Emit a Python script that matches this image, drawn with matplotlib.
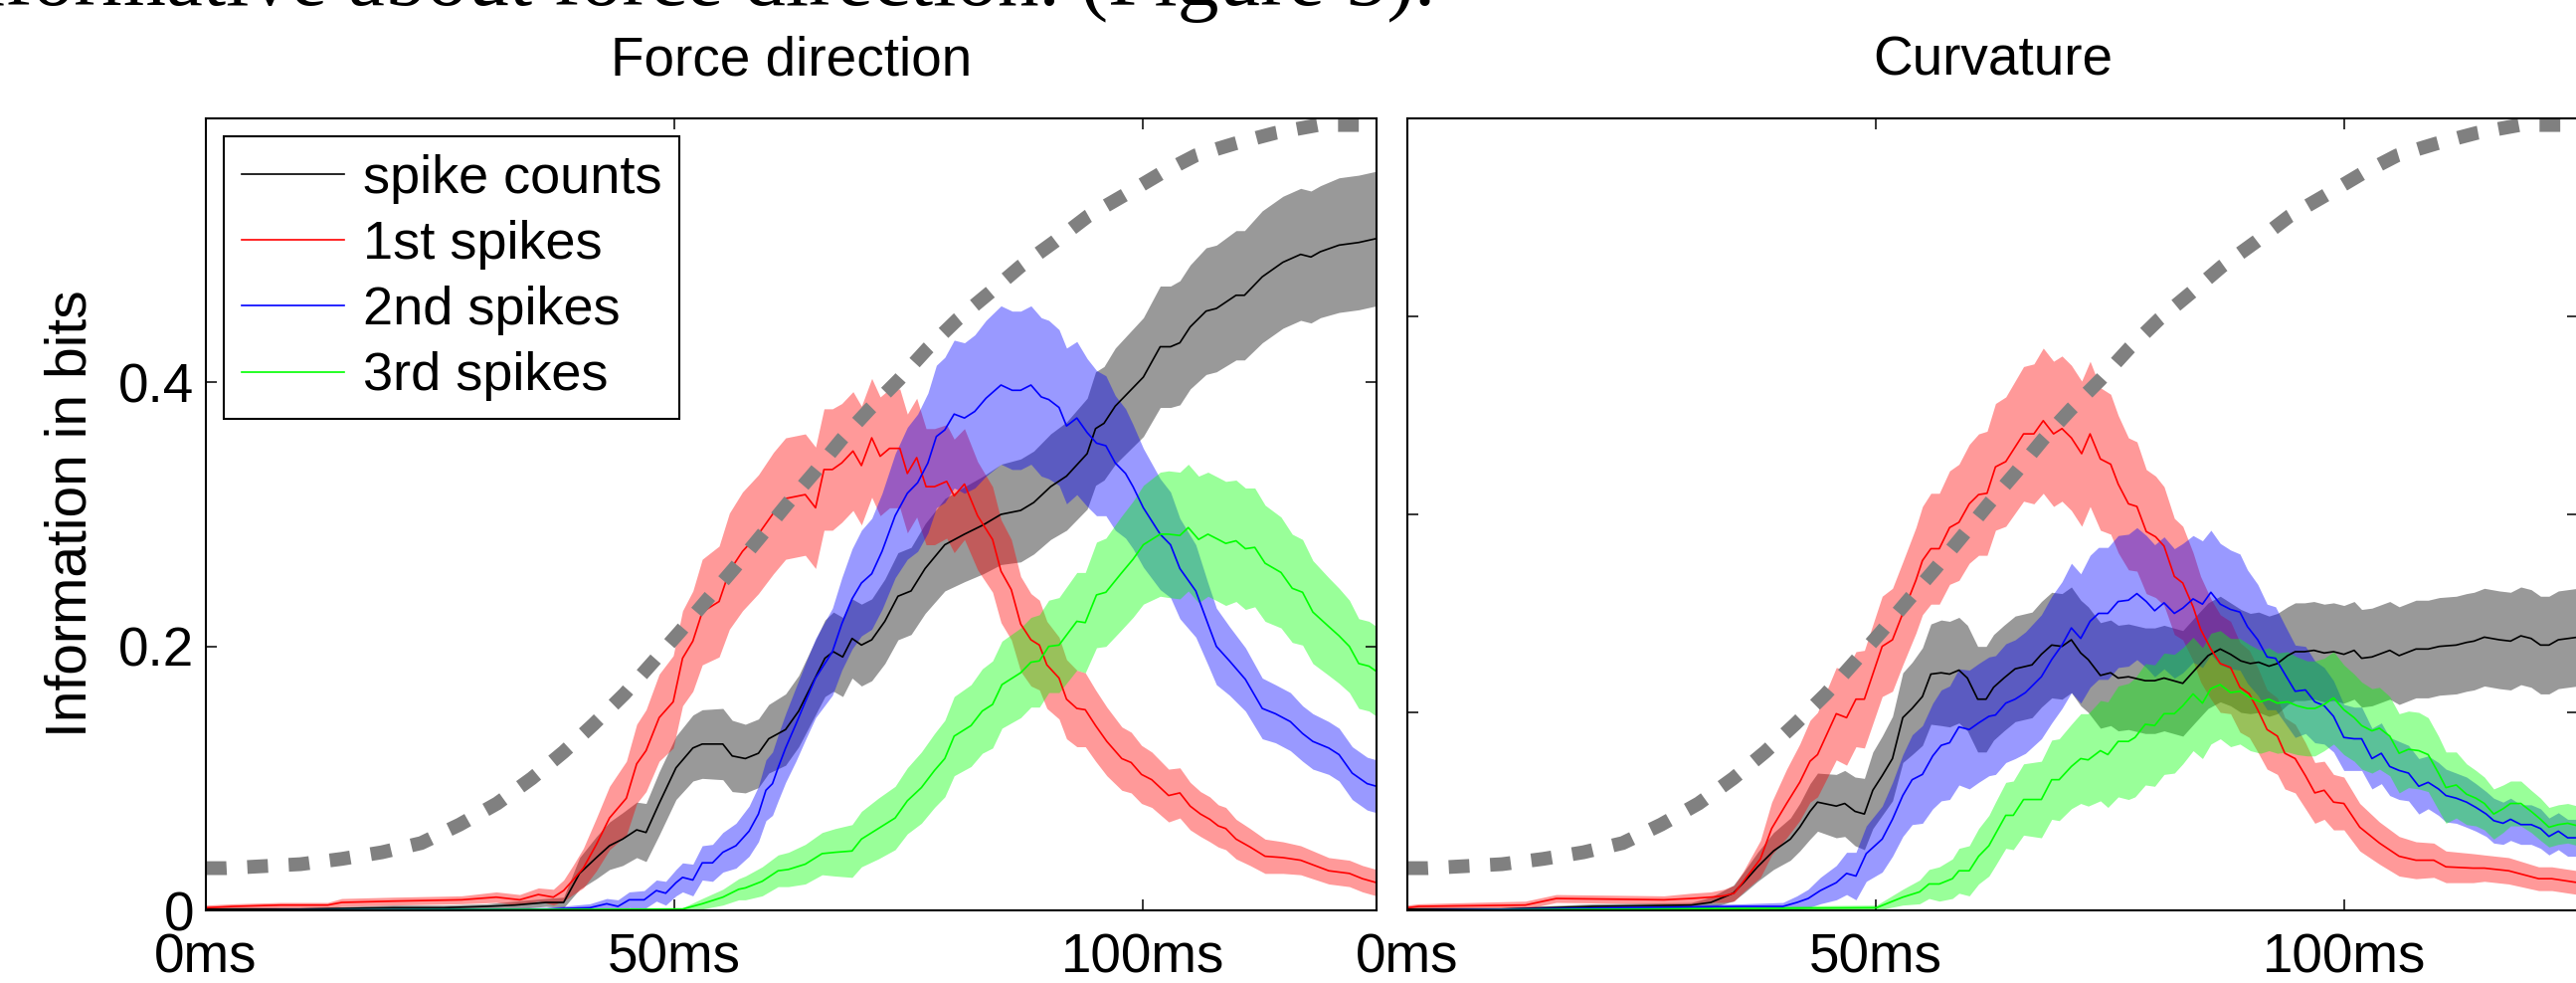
import matplotlib
matplotlib.use("Agg")
import matplotlib.pyplot as plt
import numpy as np


# Time axis is in ms, values are information in bits.

# Dotted gray reference curve (same in both panels)
REF_T = [0, 2.2, 10.1, 14.5, 18.8, 23.0, 27.1, 31.1, 34.8, 38.2, 41.4, 44.7, 47.6, 50.6, 53.6, 56.4,
         59.2, 62.2, 65.0, 67.9, 70.9, 74.0, 77.1, 80.3, 83.7, 87.0, 90.7, 94.2, 98.1, 101.9, 105.7,
         109.9, 114.2, 118.8, 123.3, 125]
REF_V = [0.032, 0.032, 0.035, 0.039, 0.044, 0.051, 0.065, 0.081, 0.100, 0.120, 0.141, 0.164, 0.187,
         0.211, 0.236, 0.259, 0.283, 0.309, 0.332, 0.357, 0.380, 0.402, 0.426, 0.448, 0.468, 0.488,
         0.507, 0.526, 0.542, 0.558, 0.572, 0.581, 0.589, 0.595, 0.595, 0.596]

# ---- Force direction panel ----
FD_COUNT_T = [0, 10, 20, 25.4, 30, 33, 36.3, 38.2,
              39.9, 41.7, 43.1, 44.5, 46.0, 47.0, 48.4, 50.2, 52.0, 53.0,
              55.2, 56.2, 57.6, 59.0, 60.1, 61.9, 63.3, 64.7, 66.1, 67.0,
              68.0, 69.0, 70.0, 71.1, 72.5, 73.9, 75.3, 76.8, 78.9, 81.0,
              83.0, 84.9, 87.0, 88.4, 90.2, 91.9, 94.1, 95.0, 95.9, 97.1,
              100.1, 101.9, 103.0, 104.0, 105.1, 106.8, 107.9, 110.0, 110.9, 112.8,
              115.0, 116.9, 118.0, 119.0, 121.0, 123.1, 125]
FD_COUNT_V = [0.001, 0.001, 0.002, 0.002, 0.003, 0.004, 0.006, 0.006,
              0.028, 0.040, 0.049, 0.054, 0.061, 0.059, 0.081, 0.108, 0.123, 0.126,
              0.126, 0.117, 0.115, 0.119, 0.130, 0.137, 0.151, 0.171, 0.191, 0.196,
              0.192, 0.206, 0.201, 0.205, 0.219, 0.238, 0.242, 0.259, 0.277, 0.285,
              0.292, 0.300, 0.303, 0.309, 0.321, 0.329, 0.346, 0.365, 0.369, 0.382,
              0.404, 0.427, 0.427, 0.430, 0.442, 0.454, 0.456, 0.466, 0.466, 0.480,
              0.491, 0.497, 0.495, 0.499, 0.504, 0.506, 0.509]
FD_COUNT_E = [0.001, 0.001, 0.002, 0.002, 0.002, 0.003, 0.003, 0.004,
              0.012, 0.016, 0.018, 0.020, 0.021, 0.022, 0.024, 0.024, 0.025, 0.026,
              0.027, 0.027, 0.026, 0.026, 0.026, 0.027, 0.027, 0.028, 0.029, 0.030,
              0.030, 0.030, 0.031, 0.031, 0.032, 0.033, 0.033, 0.034, 0.035, 0.036,
              0.037, 0.038, 0.039, 0.039, 0.040, 0.041, 0.042, 0.043, 0.043, 0.044,
              0.045, 0.046, 0.046, 0.047, 0.047, 0.048, 0.048, 0.049, 0.049, 0.050,
              0.050, 0.050, 0.050, 0.050, 0.051, 0.051, 0.051]

FD_FIRST_T = [0, 3, 8, 13, 14.5, 20, 27.3, 31.0, 33.5, 35.5,
              37.1, 38.2, 39.2, 40.3, 41.7, 43.1, 44.9, 46.0, 47.0, 48.4,
              49.9, 50.9, 52.0, 53.0, 54.8, 55.9, 57.3, 59.0, 60.6, 61.9,
              64.0, 65.1, 66.0, 66.9, 67.9, 69.1, 70.0, 71.1, 72.0, 73.0,
              74.1, 74.9, 75.9, 76.9, 77.8, 79.1, 79.9, 81.0, 82.4, 84.0,
              84.9, 86.0, 87.0, 88.1, 89.0, 89.8, 91.1, 91.9, 93.0, 93.9,
              95.0, 96.2, 97.8, 98.8, 99.9, 101.0, 102.8, 104.0, 105.1, 106.2,
              107.2, 108.1, 108.9, 110.0, 111.5, 113.1, 115.0, 116.9, 119.9, 122.1,
              123.5, 125]
FD_FIRST_V = [0.002, 0.003, 0.004, 0.004, 0.006, 0.007, 0.008, 0.010, 0.008, 0.012,
              0.010, 0.015, 0.023, 0.032, 0.050, 0.070, 0.085, 0.111, 0.121, 0.146,
              0.158, 0.191, 0.204, 0.226, 0.234, 0.257, 0.272, 0.285, 0.301, 0.312,
              0.315, 0.305, 0.334, 0.334, 0.339, 0.348, 0.337, 0.358, 0.344, 0.350,
              0.350, 0.331, 0.343, 0.321, 0.321, 0.325, 0.314, 0.323, 0.299, 0.281,
              0.257, 0.243, 0.217, 0.205, 0.201, 0.186, 0.176, 0.160, 0.153, 0.152,
              0.140, 0.128, 0.115, 0.112, 0.103, 0.099, 0.087, 0.089, 0.079, 0.073,
              0.069, 0.064, 0.062, 0.054, 0.048, 0.041, 0.040, 0.038, 0.030, 0.028,
              0.024, 0.021]
FD_FIRST_E = [0.002, 0.002, 0.002, 0.002, 0.003, 0.003, 0.003, 0.004, 0.004, 0.005,
              0.006, 0.008, 0.011, 0.015, 0.020, 0.024, 0.028, 0.030, 0.031, 0.033,
              0.035, 0.036, 0.038, 0.040, 0.042, 0.044, 0.045, 0.045, 0.046, 0.046,
              0.046, 0.046, 0.046, 0.046, 0.045, 0.045, 0.045, 0.045, 0.045, 0.045,
              0.045, 0.045, 0.045, 0.044, 0.044, 0.043, 0.043, 0.042, 0.041, 0.040,
              0.039, 0.038, 0.036, 0.035, 0.034, 0.033, 0.031, 0.030, 0.029, 0.028,
              0.027, 0.026, 0.024, 0.023, 0.022, 0.021, 0.020, 0.019, 0.018, 0.017,
              0.017, 0.016, 0.016, 0.015, 0.014, 0.013, 0.012, 0.011, 0.010, 0.010,
              0.010, 0.010]

FD_SECOND_T = [0, 36.4, 41.0, 42.8, 44.0, 45.2, 46.8, 48.1, 49.1, 50.2,
               50.9, 52.0, 53.0, 54.1, 55.2, 56.6, 58.0, 59.0, 59.8, 60.5,
               61.1, 61.9, 63.0, 64.0, 65.1, 66.9, 67.9, 69.0, 70.0, 71.1,
               72.2, 73.6, 74.9, 76.0, 77.1, 78.0, 78.9, 79.9, 81.0, 82.1,
               83.3, 84.9, 86.1, 87.0, 88.1, 89.2, 90.0, 91.1, 91.9, 93.0,
               94.1, 95.1, 96.1, 97.1, 98.2, 99.0, 100.1, 101.9, 103.0, 104.0,
               105.7, 107.0, 107.9, 109.3, 111.0, 112.8, 114.2, 115.8, 117.1, 118.2,
               119.9, 121.0, 122.4, 124.0, 125]
FD_SECOND_V = [0.0, 0.001, 0.002, 0.005, 0.003, 0.008, 0.008, 0.015, 0.013, 0.021,
               0.025, 0.023, 0.036, 0.036, 0.044, 0.049, 0.060, 0.073, 0.091, 0.096,
               0.108, 0.123, 0.141, 0.158, 0.176, 0.196, 0.217, 0.236, 0.248, 0.255,
               0.272, 0.299, 0.316, 0.324, 0.339, 0.359, 0.364, 0.376, 0.373, 0.378,
               0.388, 0.398, 0.394, 0.394, 0.398, 0.389, 0.387, 0.381, 0.367, 0.373,
               0.362, 0.354, 0.352, 0.339, 0.331, 0.321, 0.305, 0.285, 0.277, 0.259,
               0.242, 0.217, 0.200, 0.189, 0.175, 0.153, 0.149, 0.143, 0.134, 0.128,
               0.123, 0.118, 0.104, 0.096, 0.094]
FD_SECOND_E = [0.0005, 0.001, 0.003, 0.004, 0.005, 0.006, 0.007, 0.008, 0.009, 0.010,
               0.011, 0.012, 0.013, 0.014, 0.015, 0.017, 0.019, 0.021, 0.023, 0.024,
               0.025, 0.026, 0.028, 0.029, 0.030, 0.033, 0.035, 0.038, 0.040, 0.042,
               0.044, 0.047, 0.050, 0.052, 0.053, 0.054, 0.055, 0.056, 0.057, 0.058,
               0.059, 0.060, 0.060, 0.060, 0.060, 0.060, 0.060, 0.059, 0.059, 0.058,
               0.056, 0.055, 0.053, 0.051, 0.049, 0.047, 0.045, 0.042, 0.040, 0.038,
               0.035, 0.031, 0.029, 0.026, 0.024, 0.023, 0.022, 0.022, 0.021, 0.021,
               0.020, 0.020, 0.020, 0.020, 0.020]

FD_THIRD_T = [0, 50.9, 53.0, 55.2, 56.9, 57.6, 59.4, 61.1, 62.2, 64.0,
              65.8, 67.2, 69.0, 70.0, 71.8, 73.6, 74.9, 76.4, 77.8, 78.9,
              79.9, 81.7, 82.9, 84.0, 85.0, 87.0, 88.1, 89.0, 90.0, 91.1,
              93.0, 93.9, 95.1, 96.1, 97.7, 99.0, 100.1, 101.9, 102.8, 104.0,
              104.9, 106.0, 107.0, 108.1, 108.9, 110.0, 111.0, 112.0, 113.1, 114.8,
              116.0, 117.1, 118.2, 119.9, 121.0, 122.1, 123.1, 124.2, 125]
FD_THIRD_V = [0.0, 0.001, 0.005, 0.010, 0.016, 0.017, 0.022, 0.030, 0.031, 0.035,
              0.043, 0.044, 0.045, 0.054, 0.062, 0.070, 0.083, 0.093, 0.106, 0.115,
              0.132, 0.140, 0.151, 0.156, 0.171, 0.180, 0.188, 0.189, 0.200, 0.201,
              0.219, 0.218, 0.239, 0.241, 0.255, 0.266, 0.277, 0.285, 0.285, 0.284,
              0.290, 0.281, 0.285, 0.281, 0.278, 0.280, 0.274, 0.275, 0.263, 0.256,
              0.244, 0.241, 0.226, 0.215, 0.208, 0.200, 0.187, 0.185, 0.181]
FD_THIRD_E = [0.0005, 0.001, 0.004, 0.006, 0.008, 0.009, 0.011, 0.012, 0.013, 0.015,
              0.016, 0.018, 0.020, 0.021, 0.023, 0.024, 0.025, 0.027, 0.028, 0.029,
              0.030, 0.031, 0.032, 0.033, 0.033, 0.034, 0.034, 0.035, 0.035, 0.036,
              0.037, 0.038, 0.040, 0.041, 0.043, 0.044, 0.045, 0.047, 0.048, 0.048,
              0.048, 0.048, 0.047, 0.047, 0.047, 0.046, 0.046, 0.045, 0.044, 0.042,
              0.041, 0.040, 0.039, 0.037, 0.036, 0.035, 0.034, 0.034, 0.034]

# ---- Curvature panel ----
CV_COUNT_T = [0, 10, 20, 30.3, 32.4, 34.8, 35.9, 37.4, 39.1, 40.9,
              41.9, 43.0, 43.8, 45.8, 46.7, 47.8, 48.8, 49.7, 50.7, 51.8,
              52.9, 53.9, 55.0, 55.9, 57.0, 57.9, 58.9, 59.8, 60.9, 61.8,
              62.6, 63.7, 64.9, 66.7, 67.7, 68.8, 69.9, 70.9, 71.9, 72.7,
              74.0, 75.1, 75.9, 77.0, 78.8, 79.8, 80.8, 82.8, 84.2, 85.5,
              86.8, 87.9, 89.0, 90.0, 90.9, 92.0, 92.9, 94.0, 94.8, 95.8,
              96.8, 97.9, 98.9, 100.0, 101.1, 101.9, 103.0, 104.9, 105.9, 107.7,
              109.0, 110.2, 112.0, 113.1, 113.9, 115.0, 116.6, 117.8, 118.9, 120.0,
              121.0, 121.9, 122.9, 125]
CV_COUNT_V = [0.001, 0.001, 0.003, 0.004, 0.006, 0.013, 0.021, 0.033, 0.045, 0.054,
              0.063, 0.075, 0.082, 0.079, 0.081, 0.075, 0.073, 0.091, 0.102, 0.115,
              0.146, 0.153, 0.162, 0.179, 0.180, 0.179, 0.182, 0.176, 0.160, 0.160,
              0.169, 0.176, 0.183, 0.186, 0.194, 0.201, 0.200, 0.205, 0.195, 0.190,
              0.178, 0.180, 0.176, 0.177, 0.174, 0.174, 0.176, 0.172, 0.183, 0.193,
              0.198, 0.194, 0.189, 0.187, 0.188, 0.185, 0.187, 0.193, 0.196, 0.196,
              0.197, 0.195, 0.196, 0.194, 0.197, 0.191, 0.192, 0.197, 0.193, 0.198,
              0.198, 0.200, 0.201, 0.203, 0.204, 0.207, 0.205, 0.204, 0.208, 0.206,
              0.201, 0.201, 0.205, 0.207]
CV_COUNT_E = [0.001, 0.001, 0.002, 0.002, 0.004, 0.006, 0.008, 0.011, 0.014, 0.016,
              0.018, 0.021, 0.022, 0.024, 0.025, 0.026, 0.027, 0.029, 0.030, 0.032,
              0.034, 0.035, 0.037, 0.038, 0.040, 0.040, 0.040, 0.040, 0.040, 0.040,
              0.040, 0.040, 0.040, 0.040, 0.040, 0.040, 0.040, 0.040, 0.040, 0.040,
              0.040, 0.040, 0.040, 0.040, 0.040, 0.040, 0.040, 0.040, 0.040, 0.040,
              0.040, 0.039, 0.039, 0.038, 0.038, 0.038, 0.038, 0.037, 0.037, 0.037,
              0.037, 0.037, 0.037, 0.037, 0.037, 0.037, 0.037, 0.037, 0.037, 0.037,
              0.037, 0.037, 0.037, 0.037, 0.037, 0.037, 0.037, 0.037, 0.037, 0.037,
              0.037, 0.037, 0.037, 0.037]

CV_FIRST_T = [0, 1.2, 12.6, 15.9, 27.4, 30.3, 32.4, 33.8, 34.9, 35.9,
              37.7, 38.9, 40.5, 41.9, 43.0, 43.8, 45.8, 46.9, 47.9, 48.8,
              50.7, 51.8, 52.9, 54.3, 55.0, 55.9, 56.8, 57.9, 58.9, 60.0,
              61.0, 61.9, 62.8, 63.9, 65.8, 66.9, 67.9, 69.0, 69.9, 70.9,
              72.0, 72.9, 74.0, 75.1, 75.9, 77.0, 77.9, 78.9, 79.9, 80.8,
              81.9, 82.8, 83.9, 84.7, 85.8, 86.8, 87.9, 88.9, 89.9, 90.8,
              91.8, 92.9, 93.7, 94.8, 95.9, 96.9, 97.9, 98.9, 100.0, 101.7,
              103.8, 105.9, 107.7, 109.6, 110.9, 113.8, 115.0, 117.6, 120.8, 122.2,
              125]
CV_FIRST_V = [0.002, 0.003, 0.004, 0.009, 0.008, 0.009, 0.010, 0.011, 0.013, 0.022,
              0.039, 0.062, 0.081, 0.097, 0.113, 0.118, 0.149, 0.146, 0.160, 0.160,
              0.200, 0.205, 0.225, 0.250, 0.265, 0.274, 0.274, 0.290, 0.294, 0.308,
              0.315, 0.316, 0.336, 0.340, 0.361, 0.361, 0.371, 0.361, 0.365, 0.358,
              0.346, 0.361, 0.342, 0.338, 0.323, 0.308, 0.306, 0.287, 0.283, 0.276,
              0.253, 0.248, 0.230, 0.213, 0.198, 0.187, 0.184, 0.169, 0.164, 0.152,
              0.137, 0.132, 0.119, 0.115, 0.102, 0.089, 0.091, 0.082, 0.081, 0.063,
              0.051, 0.041, 0.038, 0.038, 0.033, 0.032, 0.032, 0.030, 0.024, 0.024,
              0.021]
CV_FIRST_E = [0.002, 0.002, 0.003, 0.003, 0.003, 0.004, 0.004, 0.005, 0.006, 0.008,
              0.014, 0.020, 0.026, 0.029, 0.031, 0.032, 0.035, 0.036, 0.036, 0.037,
              0.038, 0.039, 0.039, 0.040, 0.041, 0.042, 0.042, 0.043, 0.044, 0.045,
              0.046, 0.047, 0.048, 0.049, 0.051, 0.053, 0.055, 0.055, 0.055, 0.055,
              0.055, 0.055, 0.054, 0.053, 0.052, 0.050, 0.049, 0.047, 0.046, 0.045,
              0.044, 0.043, 0.041, 0.040, 0.038, 0.037, 0.035, 0.034, 0.033, 0.032,
              0.030, 0.029, 0.027, 0.026, 0.025, 0.023, 0.022, 0.021, 0.020, 0.018,
              0.016, 0.015, 0.014, 0.013, 0.012, 0.011, 0.010, 0.010, 0.009, 0.009,
              0.009]

CV_SECOND_T = [0, 35.9, 40.1, 41.6, 42.8, 44.1, 45.8, 46.9, 47.9, 49.0,
               50.7, 51.8, 52.9, 53.9, 55.0, 56.1, 57.0, 57.9, 58.9, 60.0,
               61.0, 62.1, 62.8, 63.9, 64.9, 66.0, 67.7, 68.8, 69.9, 70.9,
               71.9, 72.9, 73.8, 74.8, 75.9, 77.0, 77.9, 78.9, 79.8, 80.8,
               81.9, 82.8, 83.9, 84.9, 85.8, 86.8, 87.9, 88.9, 89.7, 90.8,
               91.8, 92.7, 93.7, 94.8, 95.9, 96.9, 97.9, 98.9, 100.0, 101.1,
               101.9, 103.0, 104.0, 104.9, 105.9, 106.9, 108.0, 109.0, 110.1, 110.9,
               112.0, 113.1, 114.1, 115.2, 116.0, 117.0, 117.8, 118.9, 120.0, 121.0,
               121.9, 122.9, 123.9, 125]
CV_SECOND_V = [0.0, 0.003, 0.003, 0.006, 0.009, 0.015, 0.021, 0.028, 0.026, 0.043,
               0.054, 0.069, 0.087, 0.099, 0.103, 0.117, 0.125, 0.127, 0.139, 0.137,
               0.142, 0.147, 0.148, 0.157, 0.160, 0.165, 0.177, 0.190, 0.201, 0.214,
               0.206, 0.219, 0.225, 0.225, 0.234, 0.235, 0.240, 0.234, 0.227, 0.233,
               0.225, 0.229, 0.236, 0.232, 0.241, 0.232, 0.228, 0.226, 0.215, 0.205,
               0.192, 0.191, 0.179, 0.166, 0.167, 0.158, 0.155, 0.147, 0.131, 0.130,
               0.130, 0.115, 0.119, 0.109, 0.106, 0.104, 0.094, 0.097, 0.092, 0.087,
               0.085, 0.082, 0.078, 0.073, 0.068, 0.066, 0.069, 0.065, 0.065, 0.062,
               0.056, 0.060, 0.055, 0.055]
CV_SECOND_E = [0.0005, 0.002, 0.003, 0.005, 0.007, 0.010, 0.013, 0.016, 0.018, 0.021,
               0.025, 0.028, 0.031, 0.034, 0.037, 0.040, 0.042, 0.043, 0.044, 0.045,
               0.045, 0.045, 0.045, 0.045, 0.045, 0.046, 0.047, 0.048, 0.048, 0.049,
               0.049, 0.050, 0.050, 0.050, 0.050, 0.050, 0.050, 0.050, 0.050, 0.050,
               0.049, 0.049, 0.048, 0.048, 0.047, 0.046, 0.045, 0.044, 0.043, 0.042,
               0.040, 0.039, 0.037, 0.035, 0.033, 0.031, 0.029, 0.027, 0.025, 0.024,
               0.024, 0.023, 0.023, 0.022, 0.022, 0.021, 0.021, 0.020, 0.020, 0.020,
               0.019, 0.019, 0.018, 0.017, 0.017, 0.016, 0.016, 0.015, 0.015, 0.015,
               0.014, 0.014, 0.014, 0.014]

CV_THIRD_T = [0, 50.1, 51.5, 52.9, 54.7, 55.7, 56.8, 58.2, 58.9, 60.0,
              61.0, 62.1, 62.8, 63.9, 64.7, 65.8, 67.7, 68.8, 69.6, 70.9,
              71.9, 72.7, 74.0, 74.8, 75.9, 77.0, 77.7, 78.8, 79.8, 80.8,
              81.9, 82.8, 83.9, 84.9, 85.8, 86.8, 87.9, 88.9, 90.0, 91.1,
              92.0, 92.9, 94.0, 95.0, 96.1, 96.9, 97.9, 98.9, 100.0, 101.1,
              101.9, 103.0, 103.8, 104.9, 105.9, 106.9, 108.0, 109.0, 110.1, 110.9,
              112.0, 113.1, 114.1, 115.0, 116.0, 117.0, 117.8, 118.9, 120.0, 121.0,
              121.9, 122.9, 123.9, 125]
CV_THIRD_V = [0.0, 0.002, 0.006, 0.010, 0.014, 0.020, 0.020, 0.024, 0.030, 0.030,
              0.041, 0.049, 0.058, 0.072, 0.072, 0.084, 0.084, 0.099, 0.099, 0.109,
              0.115, 0.114, 0.121, 0.118, 0.128, 0.128, 0.131, 0.141, 0.140, 0.149,
              0.149, 0.155, 0.164, 0.157, 0.168, 0.171, 0.165, 0.166, 0.161, 0.158,
              0.160, 0.157, 0.158, 0.155, 0.153, 0.153, 0.156, 0.161, 0.152, 0.146,
              0.140, 0.136, 0.138, 0.132, 0.119, 0.122, 0.121, 0.118, 0.104, 0.093,
              0.095, 0.088, 0.085, 0.081, 0.073, 0.077, 0.081, 0.081, 0.075, 0.069,
              0.063, 0.065, 0.066, 0.064]
CV_THIRD_E = [0.0005, 0.002, 0.004, 0.006, 0.009, 0.011, 0.013, 0.015, 0.017, 0.019,
              0.021, 0.023, 0.024, 0.025, 0.026, 0.027, 0.029, 0.030, 0.031, 0.032,
              0.034, 0.035, 0.038, 0.040, 0.042, 0.044, 0.045, 0.046, 0.046, 0.046,
              0.045, 0.044, 0.043, 0.042, 0.042, 0.041, 0.041, 0.040, 0.040, 0.039,
              0.039, 0.038, 0.038, 0.037, 0.036, 0.036, 0.035, 0.035, 0.034, 0.033,
              0.033, 0.032, 0.031, 0.030, 0.030, 0.029, 0.029, 0.028, 0.028, 0.027,
              0.025, 0.023, 0.021, 0.020, 0.019, 0.018, 0.017, 0.017, 0.016, 0.016,
              0.015, 0.015, 0.015, 0.015]

LABELS = ["spike counts", "1st spikes", "2nd spikes", "3rd spikes"]
COLORS = ["#000000", "#ff0000", "#0000ff", "#00ff00"]
XTICKS = [0, 50, 100]
XTICK_LABELS = ["0ms", "50ms", "100ms"]

FONT = "Liberation Sans"
FS = 39.5


def draw_panel(ax, series, title):
    """Bands first, then mean lines, then the dotted reference curve on top."""
    for (t, v, e), color in zip(series, COLORS):
        t, v, e = np.asarray(t), np.asarray(v), np.asarray(e)
        assert len(t) == len(v) == len(e), (title, len(t), len(v), len(e))
        ax.fill_between(t, v - e, v + e, color=color, alpha=0.4, linewidth=0)
    handles = []
    for (t, v, e), color, label in zip(series, COLORS, LABELS):
        h, = ax.plot(t, v, color=color, linewidth=1.2, label=label)
        handles.append(h)
    ax.plot(REF_T, REF_V, color="#808080", linewidth=10,
            linestyle=(0, (1.5, 1.5)), dash_capstyle="butt")

    ax.set_xlim(0, 125)
    ax.set_ylim(0, 0.6)
    ax.set_xticks(XTICKS)
    ax.set_xticklabels(XTICK_LABELS, fontsize=FS, family=FONT)
    ax.tick_params(direction="in", top=True, right=True, length=8, width=1.1)
    ax.tick_params(axis="x", pad=16)
    ax.tick_params(axis="y", pad=8.5)
    for sp in ax.spines.values():
        sp.set_linewidth(1.5)
    ax.set_title(title, fontsize=FS, family=FONT, pad=31)
    return handles


def main():
    fig = plt.figure(figsize=(25.9, 9.88), dpi=100)
    W, H = 2590, 988

    ax1 = fig.add_axes([207 / W, (H - 915) / H, 1177 / W, 796 / H])
    ax2 = fig.add_axes([1415 / W, (H - 915) / H, 1177 / W, 796 / H])

    fd = [(FD_COUNT_T, FD_COUNT_V, FD_COUNT_E), (FD_FIRST_T, FD_FIRST_V, FD_FIRST_E),
          (FD_SECOND_T, FD_SECOND_V, FD_SECOND_E), (FD_THIRD_T, FD_THIRD_V, FD_THIRD_E)]
    cv = [(CV_COUNT_T, CV_COUNT_V, CV_COUNT_E), (CV_FIRST_T, CV_FIRST_V, CV_FIRST_E),
          (CV_SECOND_T, CV_SECOND_V, CV_SECOND_E), (CV_THIRD_T, CV_THIRD_V, CV_THIRD_E)]

    handles = draw_panel(ax1, fd, "Force direction")
    draw_panel(ax2, cv, "Curvature")

    ax1.set_yticks([0, 0.2, 0.4])
    ax1.set_yticklabels(["0", "0.2", "0.4"], fontsize=FS, family=FONT)
    ax2.set_yticks([0, 0.15, 0.3, 0.45])
    ax2.tick_params(labelleft=False)

    leg = ax1.legend(handles=handles, loc="upper left", prop={"family": FONT, "size": 39},
                     frameon=True, fancybox=False, framealpha=1, edgecolor="black",
                     borderaxespad=0.33, borderpad=0.33, labelspacing=0.3,
                     handlelength=1.9, handletextpad=0.35)
    leg.get_frame().set_linewidth(1.5)

    fig.text(72 / W, 1 - 516 / H, "Information in bits", rotation=90,
             ha="center", va="center", fontsize=41, family=FONT)

    # cut-off line of body text above the figure
    fig.text(-60 / W, 1 - 5 / H, "informative about force direction. (Figure 5).",
             ha="left", va="baseline", fontsize=60, family="Liberation Serif")

    fig.savefig("out.png", dpi=100)


if __name__ == "__main__":
    main()
